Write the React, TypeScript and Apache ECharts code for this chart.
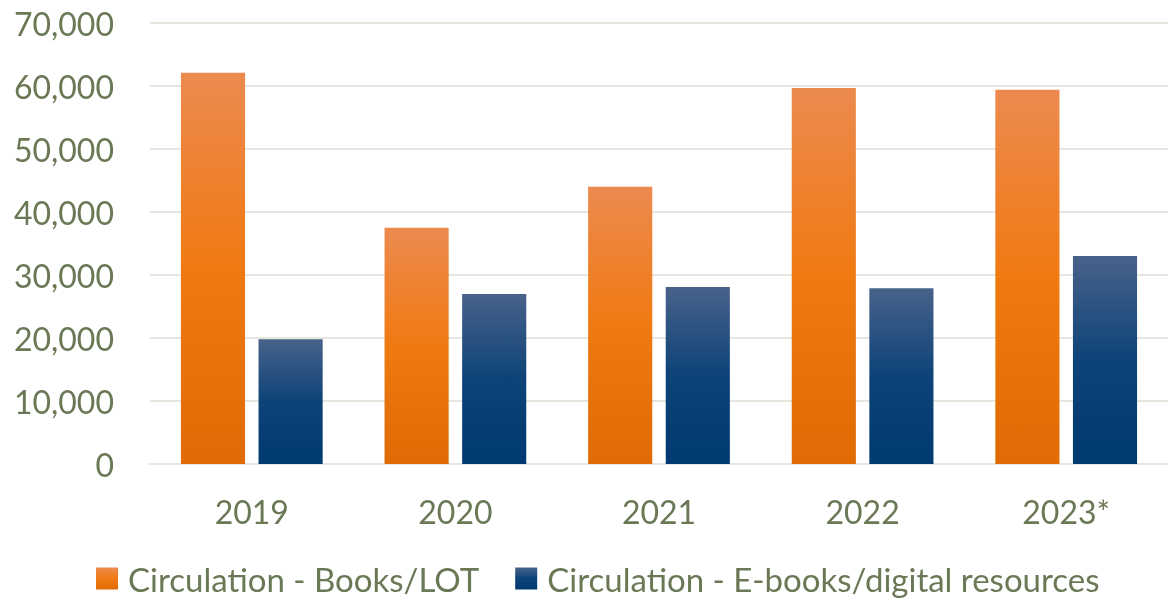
import React, { useEffect, useRef } from "react";
import * as echarts from "echarts";

const categories = ["2019", "2020", "2021", "2022", "2023*"];
const booksLot = [62100, 37500, 44000, 59700, 59400];
const eBooks = [19800, 27000, 28100, 27900, 33000];
const seriesNames = ["Circulation - Books/LOT", "Circulation - E-books/digital resources"];

const FONT = "Lato";
const TEXT = "#6A7856";

const orangeGrad = () =>
  new echarts.graphic.LinearGradient(0, 0, 0, 1, [
    { offset: 0, color: "#EC8A4F" },
    { offset: 0.5, color: "#F07A12" },
    { offset: 1, color: "#E06A03" },
  ]);
const blueGrad = () =>
  new echarts.graphic.LinearGradient(0, 0, 0, 1, [
    { offset: 0, color: "#48628A" },
    { offset: 0.5, color: "#0D4378" },
    { offset: 1, color: "#003A70" },
  ]);

export default function App() {
  const ref = useRef<HTMLDivElement>(null);
  useEffect(() => {
    const chart = echarts.init(ref.current!, null, { renderer: "svg" });
    chart.setOption({
      animation: false,
      grid: { left: 150, width: 1025, top: 23, height: 441, containLabel: false },
      legend: {
        top: 557,
        left: 91,
        itemWidth: 22,
        itemHeight: 22,
        itemGap: 36,
        icon: "rect",
        textStyle: { fontFamily: FONT, fontSize: 33, color: TEXT, padding: [0, 0, 0, 5] },
        data: seriesNames,
      },
      xAxis: {
        type: "category",
        data: categories,
        axisLine: { show: true, lineStyle: { color: "#E6E6DE", width: 2 } },
        axisTick: { show: false },
        axisLabel: { fontFamily: FONT, fontSize: 32, color: TEXT, margin: 31 },
      },
      yAxis: {
        type: "value",
        min: 0,
        max: 70000,
        interval: 10000,
        axisLine: { show: false },
        axisTick: { show: false },
        splitLine: { lineStyle: { color: "#E6E6DE", width: 2 } },
        axisLabel: {
          fontFamily: FONT,
          fontSize: 32,
          color: TEXT,
          margin: 36,
          formatter: (v: number) => v.toLocaleString("en-US"),
        },
      },
      series: [
        {
          name: seriesNames[0],
          type: "bar",
          data: booksLot,
          barWidth: "31.5%",
          barGap: "21%",
          itemStyle: { color: orangeGrad() },
        },
        {
          name: seriesNames[1],
          type: "bar",
          data: eBooks,
          barWidth: "31.5%",
          itemStyle: { color: blueGrad() },
        },
      ],
    });
    return () => chart.dispose();
  }, []);
  return (
    <div
      ref={ref}
      style={{ position: "fixed", left: 0, top: 0, width: 1168, height: 600, overflow: "hidden" }}
    />
  );
}
